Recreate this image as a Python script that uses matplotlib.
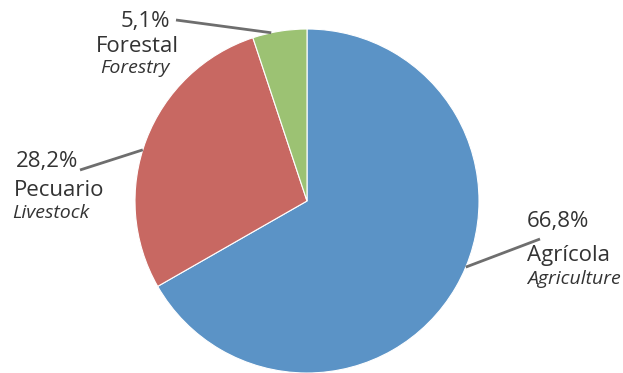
import matplotlib.pyplot as plt
import numpy as np

# participación por subsector
sectores = ['Agrícola', 'Pecuario', 'Forestal']
sectores_en = ['Agriculture', 'Livestock', 'Forestry']
porcentajes = [66.8, 28.2, 5.1]
colores = ['#5B93C6', '#C86862', '#9CC273']

W, H = 623, 373
fig = plt.figure(figsize=(W / 100, H / 100), dpi=100)
ax = fig.add_axes([0, 0, 1, 1])

cx, cy, r = 307, H - 201, 172
wedges, _ = ax.pie(porcentajes, colors=colores, startangle=90, counterclock=False,
                   center=(cx, cy), radius=r, frame=True,
                   wedgeprops=dict(linewidth=0.8, edgecolor='white'))
ax.set_xlim(0, W)
ax.set_ylim(0, H)
ax.axis('off')

# ángulo de salida de la guía sobre el borde y su extremo exterior
guias = {
    'Agrícola': (-22.6, (540, 239)),
    'Pecuario': (162.7, (80, 170)),
    'Forestal': (102, (176, 20)),
}

txt = '#333333'
fuente = 'Open Sans'
fs, fs_it = 16, 14
for nombre, nombre_en, p in zip(sectores, sectores_en, porcentajes):
    ang, (fx, fy) = guias[nombre]
    theta = np.deg2rad(ang)
    px, py = cx + r * np.cos(theta), cy + r * np.sin(theta)
    ax.plot([px, fx], [py, H - fy], color='#6E6E6E', lw=2, solid_capstyle='butt', zorder=3)

    pct = f'{p:.1f}%'.replace('.', ',')
    if nombre == 'Agrícola':
        ax.text(527, H - 221, pct, ha='left', va='center', fontsize=fs, color=txt, family=fuente)
        ax.text(527, H - 256, nombre, ha='left', va='center', fontsize=fs, color=txt, family=fuente)
        ax.text(621, H - 279, nombre_en, ha='right', va='center', fontsize=fs_it,
                style='italic', color=txt, family=fuente)
    elif nombre == 'Pecuario':
        ax.text(78, H - 162, pct, ha='right', va='center', fontsize=fs, color=txt, family=fuente)
        ax.text(14, H - 191, nombre, ha='left', va='center', fontsize=fs, color=txt, family=fuente)
        ax.text(12, H - 213, nombre_en, ha='left', va='center', fontsize=fs_it,
                style='italic', color=txt, family=fuente)
    else:
        ax.text(170, H - 21, pct, ha='right', va='center', fontsize=fs, color=txt, family=fuente)
        ax.text(137, H - 46, nombre, ha='center', va='center', fontsize=fs, color=txt, family=fuente)
        ax.text(135, H - 68, nombre_en, ha='center', va='center', fontsize=fs_it,
                style='italic', color=txt, family=fuente)

fig.savefig('out.png', dpi=100)
